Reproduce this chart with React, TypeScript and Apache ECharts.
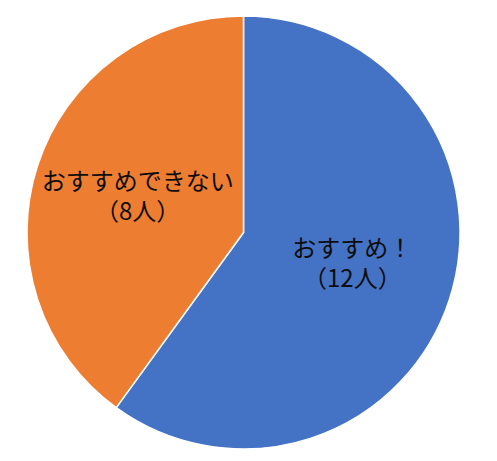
import * as echarts from "echarts";
import { useEffect, useRef } from "react";

const categories = ["おすすめ！", "おすすめできない"];
const counts = [12, 8];
const colors = ["#4472C4", "#ED7D31"];

const App = () => {
  const chartRef = useRef<HTMLDivElement>(null);

  useEffect(() => {
    const chart = echarts.init(chartRef.current, null, { renderer: "svg" });
    chart.setOption({
      animation: false,
      series: [
        {
          type: "pie",
          center: [243.5, 232.5],
          radius: [0, 216.5],
          startAngle: 90,
          clockwise: true,
          itemStyle: { borderColor: "#fff", borderWidth: 1.5 },
          label: {
            show: true,
            position: "inside",
            color: "#0d0d0d",
            fontSize: 24,
            lineHeight: 30,
            fontFamily: "'Noto Sans CJK JP', sans-serif",
            formatter: (p: any) => `${p.name}\n（${p.value}人）`,
          },
          labelLine: { show: false },
          data: categories.map((name, i) => ({
            name,
            value: counts[i],
            itemStyle: { color: colors[i] },
            label: { offset: i === 0 ? [3, -5] : [0, -4] },
          })),
        },
      ],
    });
    return () => {
      chart.dispose();
    };
  }, []);

  return (
    <div
      ref={chartRef}
      style={{ position: "absolute", left: 0, top: 0, width: "497px", height: "461px" }}
    ></div>
  );
};

export default App;
